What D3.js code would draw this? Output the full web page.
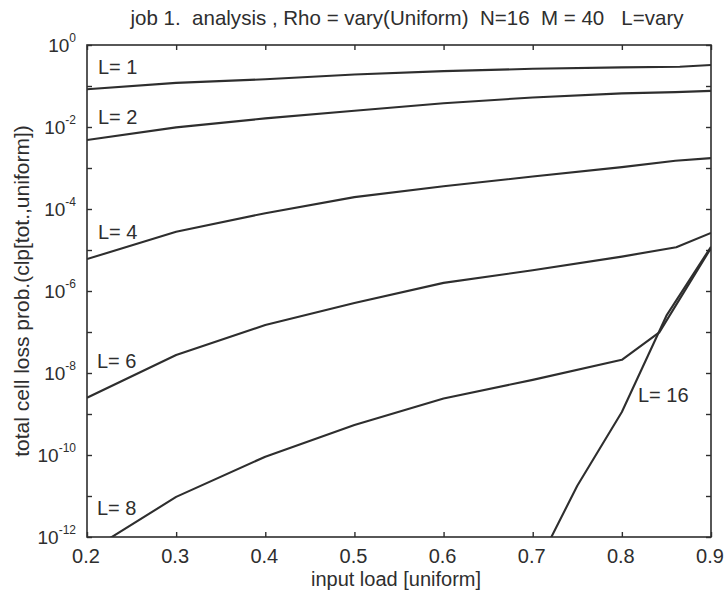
<!DOCTYPE html>
<html>
<head>
<meta charset="utf-8">
<script src="https://cdn.jsdelivr.net/npm/d3@7"></script>
<style>
  body { margin: 0; background: #fff; }
  text { font-family: "Liberation Sans", Arial, sans-serif; fill: #2e2e2e; }
</style>
</head>
<body>
<script>
// data
const title = "job 1.  analysis , Rho = vary(Uniform)  N=16  M = 40   L=vary";
const xTicks = [0.2, 0.3, 0.4, 0.5, 0.6, 0.7, 0.8, 0.9];
const yDecades = [1e0, 1e-1, 1e-2, 1e-3, 1e-4, 1e-5, 1e-6, 1e-7, 1e-8, 1e-9, 1e-10, 1e-11, 1e-12];
const yLabelExp = [0, -2, -4, -6, -8, -10, -12];

const loadL1 = [0.2, 0.3, 0.4, 0.5, 0.6, 0.7, 0.8, 0.865, 0.9];
const clpL1 = [8.3e-2, 1.19e-1, 1.46e-1, 1.9e-1, 2.3e-1, 2.63e-1, 2.85e-1, 2.95e-1, 3.24e-1];
const loadL2 = [0.2, 0.3, 0.4, 0.5, 0.6, 0.7, 0.8, 0.86, 0.9];
const clpL2 = [4.8e-3, 9.8e-3, 1.62e-2, 2.5e-2, 3.8e-2, 5.25e-2, 6.6e-2, 7.1e-2, 7.6e-2];
const loadL4 = [0.2, 0.3, 0.4, 0.5, 0.6, 0.7, 0.8, 0.86, 0.9];
const clpL4 = [6.0e-6, 2.8e-5, 7.9e-5, 1.95e-4, 3.6e-4, 6.2e-4, 1.05e-3, 1.5e-3, 1.74e-3];
const loadL6 = [0.2, 0.3, 0.4, 0.5, 0.6, 0.7, 0.8, 0.861, 0.9];
const clpL6 = [2.5e-9, 2.75e-8, 1.48e-7, 5.1e-7, 1.58e-6, 3.2e-6, 6.9e-6, 1.17e-5, 2.6e-5];
const loadL8 = [0.2, 0.3, 0.4, 0.5, 0.6, 0.7, 0.8, 0.842, 0.9];
const clpL8 = [4.2e-13, 9.5e-12, 9.1e-11, 5.4e-10, 2.4e-9, 6.8e-9, 2.1e-8, 9.8e-8, 1.12e-5];
const loadL16 = [0.7, 0.75, 0.8, 0.85, 0.9];
const clpL16 = [1.26e-13, 1.78e-11, 1.12e-9, 2.5e-7, 1.2e-5];

const series = [
  { name: "L= 1", x: loadL1, y: clpL1, lx: 98, ly: 74 },
  { name: "L= 2", x: loadL2, y: clpL2, lx: 98, ly: 124 },
  { name: "L= 4", x: loadL4, y: clpL4, lx: 98, ly: 239 },
  { name: "L= 6", x: loadL6, y: clpL6, lx: 97, ly: 368 },
  { name: "L= 8", x: loadL8, y: clpL8, lx: 97, ly: 515 },
  { name: "L= 16", x: loadL16, y: clpL16, lx: 638, ly: 402 }
];

const W = 724, H = 595;
const margin = { top: 45, right: 13, bottom: 58, left: 87 };
const ink = "#2e2e2e";

const x = d3.scaleLinear().domain([0.2, 0.9]).range([margin.left, W - margin.right]);
const y = d3.scaleLog().domain([1e-12, 1]).range([H - margin.bottom, margin.top]);

const svg = d3.select("body").append("svg")
  .attr("width", W)
  .attr("height", H);

svg.append("defs").append("clipPath").attr("id", "plotclip")
  .append("rect")
    .attr("x", x(0.2)).attr("y", y(1))
    .attr("width", x(0.9) - x(0.2))
    .attr("height", y(1e-12) - y(1));

// frame
svg.append("rect")
  .attr("x", x(0.2)).attr("y", y(1))
  .attr("width", x(0.9) - x(0.2))
  .attr("height", y(1e-12) - y(1))
  .attr("fill", "none")
  .attr("stroke", ink)
  .attr("stroke-width", 1.6);

// ticks on all four sides, pointing inward
function styleAxis(g) {
  g.select(".domain").remove();
  g.selectAll(".tick line").attr("stroke", ink).attr("stroke-width", 1.4);
}

svg.append("g")
  .attr("transform", `translate(0,${y(1e-12)})`)
  .call(d3.axisBottom(x).tickValues(xTicks).tickSize(-5).tickFormat(""))
  .call(styleAxis);

svg.append("g")
  .attr("transform", `translate(0,${y(1)})`)
  .call(d3.axisTop(x).tickValues(xTicks).tickSize(-5).tickFormat(""))
  .call(styleAxis);

svg.append("g")
  .attr("transform", `translate(${x(0.2)},0)`)
  .call(d3.axisLeft(y).tickValues(yDecades).tickSize(-5).tickFormat(""))
  .call(styleAxis);

svg.append("g")
  .attr("transform", `translate(${x(0.9)},0)`)
  .call(d3.axisRight(y).tickValues(yDecades).tickSize(-5).tickFormat(""))
  .call(styleAxis);

// x tick labels
svg.selectAll("text.xt")
  .data(xTicks)
  .join("text")
    .attr("class", "xt")
    .attr("x", d => x(d) - 1)
    .attr("y", 563)
    .attr("text-anchor", "middle")
    .attr("font-size", 20)
    .text(d3.format(".1f"));

// power-of-ten labels with superscripts
yLabelExp.forEach(e => {
  const t = svg.append("text")
    .attr("x", x(0.2) - 11)
    .attr("y", y(Math.pow(10, e)) + 7)
    .attr("text-anchor", "end")
    .attr("font-size", 19);
  t.append("tspan").text("10");
  t.append("tspan")
    .attr("font-size", 12)
    .attr("dy", -10)
    .text(e);
});

// curves
const line = d3.line()
  .x(d => x(d[0]))
  .y(d => y(d[1]));

const plot = svg.append("g").attr("clip-path", "url(#plotclip)");

plot.selectAll("path.curve")
  .data(series)
  .join("path")
    .attr("class", "curve")
    .attr("d", s => line(d3.zip(s.x, s.y)))
    .attr("fill", "none")
    .attr("stroke", ink)
    .attr("stroke-width", 2.1)
    .attr("stroke-linejoin", "round");

svg.selectAll("text.lab")
  .data(series)
  .join("text")
    .attr("class", "lab")
    .attr("x", s => s.lx)
    .attr("y", s => s.ly)
    .attr("font-size", 20)
    .text(s => s.name);

// title and axis labels
svg.append("text")
  .attr("x", 407)
  .attr("y", 25)
  .attr("text-anchor", "middle")
  .attr("font-size", 21)
  .attr("textLength", 553)
  .attr("lengthAdjust", "spacingAndGlyphs")
  .style("white-space", "pre")
  .text(title);

svg.append("text")
  .attr("x", 396)
  .attr("y", 586)
  .attr("text-anchor", "middle")
  .attr("font-size", 20)
  .text("input load [uniform]");

svg.append("text")
  .attr("transform", `translate(29,291) rotate(-90)`)
  .attr("text-anchor", "middle")
  .attr("font-size", 21)
  .text("total cell loss prob.(clp[tot.,uniform])");
</script>
</body>
</html>
